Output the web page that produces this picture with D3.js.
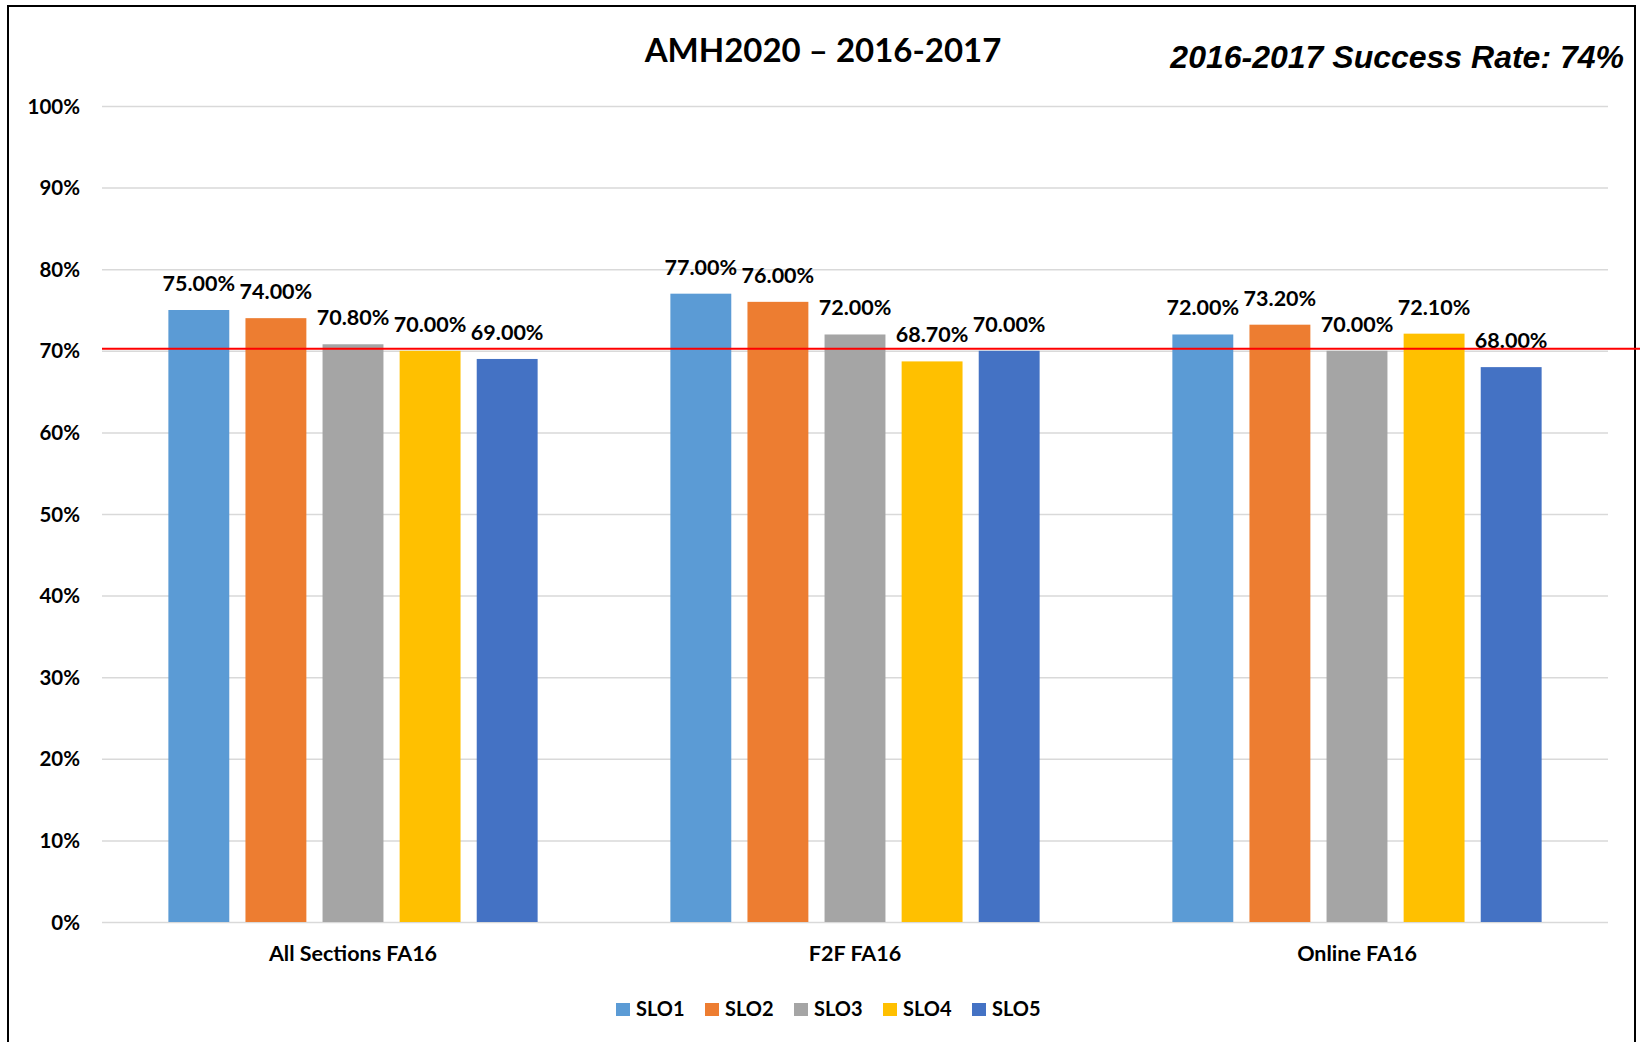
<!DOCTYPE html>
<html>
<head>
<meta charset="utf-8">
<script src="https://cdn.jsdelivr.net/npm/d3@7"></script>
<style>
  body { margin: 0; background: #fff; }
  .lbl { font-family: Lato, "Open Sans", sans-serif; font-weight: bold; fill: #000; }
</style>
</head>
<body>
<div id="chart"></div>
<script>
// chart values
var categories = ["All Sections FA16", "F2F FA16", "Online FA16"];
var series = ["SLO1", "SLO2", "SLO3", "SLO4", "SLO5"];
var slo1 = [75.0, 77.0, 72.0];
var slo2 = [74.0, 76.0, 73.2];
var slo3 = [70.8, 72.0, 70.0];
var slo4 = [70.0, 68.7, 72.1];
var slo5 = [69.0, 70.0, 68.0];
var yTicks = [0, 10, 20, 30, 40, 50, 60, 70, 80, 90, 100];
var targetLine = 70.25;
var colors = ["#5B9BD5", "#ED7D31", "#A5A5A5", "#FFC000", "#4472C4"];

var values = [slo1, slo2, slo3, slo4, slo5];

var W = 1640, H = 1042;
var margin = {top: 106, right: 32, bottom: 120, left: 102},
  width = W - margin.left - margin.right,
  height = H - margin.top - margin.bottom;

var svg = d3.select('#chart')
  .append('svg')
    .attr('width', W)
    .attr('height', H);

svg.append('rect')
  .attr('width', W).attr('height', H)
  .attr('fill', '#fff');

// chart border
svg.append('rect')
  .attr('x', 8).attr('y', 6)
  .attr('width', 1627).attr('height', 1060)
  .attr('fill', 'none')
  .attr('stroke', '#000')
  .attr('stroke-width', 2);

var g = svg.append('g')
  .attr('transform', 'translate(' + margin.left + ',' + margin.top + ')');

var y = d3.scaleLinear().domain([0, 100]).range([height, 0]);

var x0 = d3.scaleBand()
  .domain(categories)
  .range([0, width])
  .padding(0);

var x1 = d3.scaleBand()
  .domain(series)
  .range([0, x0.bandwidth()])
  .paddingInner(0.21)
  .paddingOuter(0.861);

// y axis + gridlines
var yAxis = g.append('g')
  .call(d3.axisLeft(y)
    .tickValues(yTicks)
    .tickSize(-width)
    .tickPadding(22)
    .tickFormat(function(d) { return d + '%'; }));

yAxis.select('.domain').remove();
yAxis.selectAll('.tick line')
  .attr('stroke', '#D9D9D9')
  .attr('stroke-width', 1.5);
yAxis.selectAll('.tick text')
  .attr('class', 'lbl')
  .attr('font-size', 20.5)
  .attr('dy', '0.35em');

// category axis
var xAxis = g.append('g')
  .attr('transform', 'translate(0,' + height + ')')
  .call(d3.axisBottom(x0).tickSize(0).tickPadding(24));

xAxis.select('.domain').remove();
xAxis.selectAll('.tick text')
  .attr('class', 'lbl')
  .attr('font-size', 21.5);

// bars
var groups = g.selectAll('.group')
  .data(categories).enter()
  .append('g')
    .attr('class', 'group')
    .attr('transform', function(d) { return 'translate(' + x0(d) + ',0)'; });

var cells = groups.selectAll('.cell')
  .data(function(d, ci) {
    return series.map(function(s, si) { return {s: s, si: si, v: values[si][ci]}; });
  }).enter();

cells.append('rect')
  .attr('x', function(d) { return x1(d.s); })
  .attr('y', function(d) { return y(d.v); })
  .attr('width', x1.bandwidth())
  .attr('height', function(d) { return height - y(d.v); })
  .attr('fill', function(d) { return colors[d.si]; });

cells.append('text')
  .attr('class', 'lbl')
  .attr('x', function(d) { return x1(d.s) + x1.bandwidth() / 2; })
  .attr('y', function(d) { return y(d.v) - 19; })
  .attr('font-size', 21.5)
  .attr('text-anchor', 'middle')
  .text(function(d) { return d3.format('.2f')(d.v) + '%'; });

// target line
g.append('line')
  .attr('x1', 0)
  .attr('x2', W - margin.left)
  .attr('y1', y(targetLine))
  .attr('y2', y(targetLine))
  .attr('stroke', '#FF0000')
  .attr('stroke-width', 2);

// titles
svg.append('text')
  .attr('class', 'lbl')
  .attr('x', 823)
  .attr('y', 62)
  .attr('font-size', 33)
  .attr('text-anchor', 'middle')
  .text('AMH2020 \u2013 2016-2017');

svg.append('text')
  .attr('x', 1624)
  .attr('y', 68)
  .attr('font-size', 32)
  .attr('font-family', '"Liberation Sans", Arial, sans-serif')
  .attr('font-weight', 'bold')
  .attr('font-style', 'italic')
  .attr('text-anchor', 'end')
  .text('2016-2017 Success Rate: 74%');

// legend
var legend = svg.append('g')
  .attr('transform', 'translate(616,1003)');

var item = legend.selectAll('.item')
  .data(series).enter()
  .append('g')
    .attr('class', 'item')
    .attr('transform', function(d, i) { return 'translate(' + (i * 89) + ',0)'; });

item.append('rect')
  .attr('width', 14)
  .attr('height', 13)
  .attr('fill', function(d, i) { return colors[i]; });

item.append('text')
  .attr('class', 'lbl')
  .attr('x', 20)
  .attr('y', 13)
  .attr('font-size', 20)
  .text(function(d) { return d; });
</script>
</body>
</html>
